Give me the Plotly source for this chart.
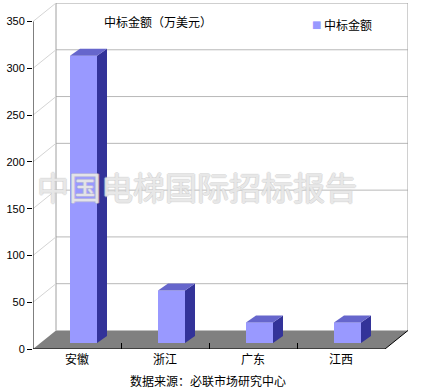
import plotly.graph_objects as go

# ---- data ----
categories = ["安徽", "浙江", "广东", "江西"]
values = [307, 56, 22, 22]
y_ticks = [0, 50, 100, 150, 200, 250, 300, 350]
series_name = "中标金额"
chart_title = "中标金额（万美元）"
source_text = "数据来源：必联市场研究中心"
watermark = "中国电梯国际招标报告"

# ---- geometry / style (pixel scale of the pseudo-3D drawing) ----
W, H = 421, 390
ML, MR, MT, MB = 33, 13, 3, 41
PX_X = 88.0            # px per category
PX_Y = 327.0 / 350.0   # px per value unit
DX = 23.0 / PX_X       # depth of chart box, x units
DY = 18.5 / PX_Y       # depth of chart box, y units
BAR_L = 7.0 / PX_X     # front face left offset from category centre
BAR_W = 27.0 / PX_X
BAR_OY = 6.0 / PX_Y
BAR_DX = 10.0 / PX_X
BAR_DY = 7.0 / PX_Y
FRONT, TOP, SIDE = "#9999ff", "#6666cc", "#333399"
FLOOR = "#808080"
CJK = "Noto Sans CJK SC"

n = len(categories)
x0, x1 = -0.5, n - 0.5
ymax = y_ticks[-1]

fig = go.Figure()

def poly(xs, ys, fill, line=None, lw=0):
    fig.add_trace(go.Scatter(
        x=xs, y=ys, mode="lines", fill="toself" if fill else None,
        fillcolor=fill, line=dict(color=line or "rgba(0,0,0,0)", width=lw),
        hoverinfo="skip", showlegend=False, cliponaxis=False))

def lines(xs, ys, color, lw=1):
    fig.add_trace(go.Scatter(
        x=xs, y=ys, mode="lines", line=dict(color=color, width=lw),
        hoverinfo="skip", showlegend=False, cliponaxis=False))

# floor
poly([x0, x1, x1 + DX, x0 + DX], [0, 0, DY, DY], FLOOR)

# back wall gridlines
gx, gy = [], []
for v in y_ticks[1:-1]:
    gx += [x0 + DX, x1 + DX, None]
    gy += [v + DY, v + DY, None]
lines(gx, gy, "#b8b8b8")
# back wall border
lines([x0 + DX, x0 + DX, x1 + DX, x1 + DX], [DY, ymax + DY, ymax + DY, DY], "#a0a0a0")
# left wall diagonals
lx, ly = [], []
for v in y_ticks[1:]:
    lx += [x0, x0 + DX, None]
    ly += [v, v + DY, None]
lines(lx, ly, "#d4d4d4")

# bars
for i, v in enumerate(values):
    l = i - BAR_L
    r = l + BAR_W
    b = BAR_OY
    t = BAR_OY + v
    poly([l, r, r, l], [b, b, t, t], FRONT)
    poly([r, r + BAR_DX, r + BAR_DX, r], [b, b + BAR_DY, t + BAR_DY, t], SIDE)
    poly([l, r, r + BAR_DX, l + BAR_DX], [t, t, t + BAR_DY, t + BAR_DY], TOP)

# floor front edge and right edge
lines([x0, x1, x1 + DX], [0, 0, DY], "black")
# y axis line
lines([x0, x0], [0, ymax], "black")

pw = W - ML - MR
ph = H - MT - MB

def px(xp):
    return (xp - ML) / pw

def py(yp):
    return (H - MB - yp) / ph

def ann(text, xp, yp, font, xanchor="center"):
    return dict(text=text, x=px(xp), y=py(yp), xref="paper", yref="paper",
                xanchor=xanchor, yanchor="middle", showarrow=False, font=font)

annotations = [
    ann(chart_title, 158, 22, dict(family=CJK, size=12, color="black")),
    ann("■", 316, 24, dict(family="DejaVu Sans", size=10, color=FRONT)),
    ann(series_name, 322, 24, dict(family=CJK, size=12, color="black"), xanchor="left"),
    ann(source_text, 208, 380, dict(family=CJK, size=12, color="black")),
    ann(watermark, 197, 186,
        dict(family=CJK, size=32, color="rgba(255,255,255,0.55)",
             shadow="1px 0 0 #cacaca, -1px 0 0 #cacaca, 0 1px 0 #cacaca, 0 -1px 0 #cacaca")),
]

fig.update_layout(
    width=W, height=H,
    margin=dict(l=ML, r=MR, t=MT, b=MB, pad=0),
    paper_bgcolor="white", plot_bgcolor="white",
    showlegend=False,
    xaxis=dict(range=[x0, x1 + DX], tickvals=list(range(n)), ticktext=categories,
               ticks="", showgrid=False, zeroline=False, showline=False,
               ticklabelstandoff=2,
               tickfont=dict(family=CJK, size=12, color="black"),
               minor=dict(tickvals=[i + 0.5 for i in range(n - 1)], ticks="inside",
                          ticklen=6, tickcolor="black", showgrid=False),
               fixedrange=True),
    yaxis=dict(range=[0, ymax + DY], tickvals=y_ticks, ticks="outside", ticklen=5,
               tickcolor="black", showgrid=False, zeroline=False, showline=False,
               tickfont=dict(family="Liberation Sans", size=11, color="black"),
               fixedrange=True),
    annotations=annotations,
)

fig.write_html("out.html")
